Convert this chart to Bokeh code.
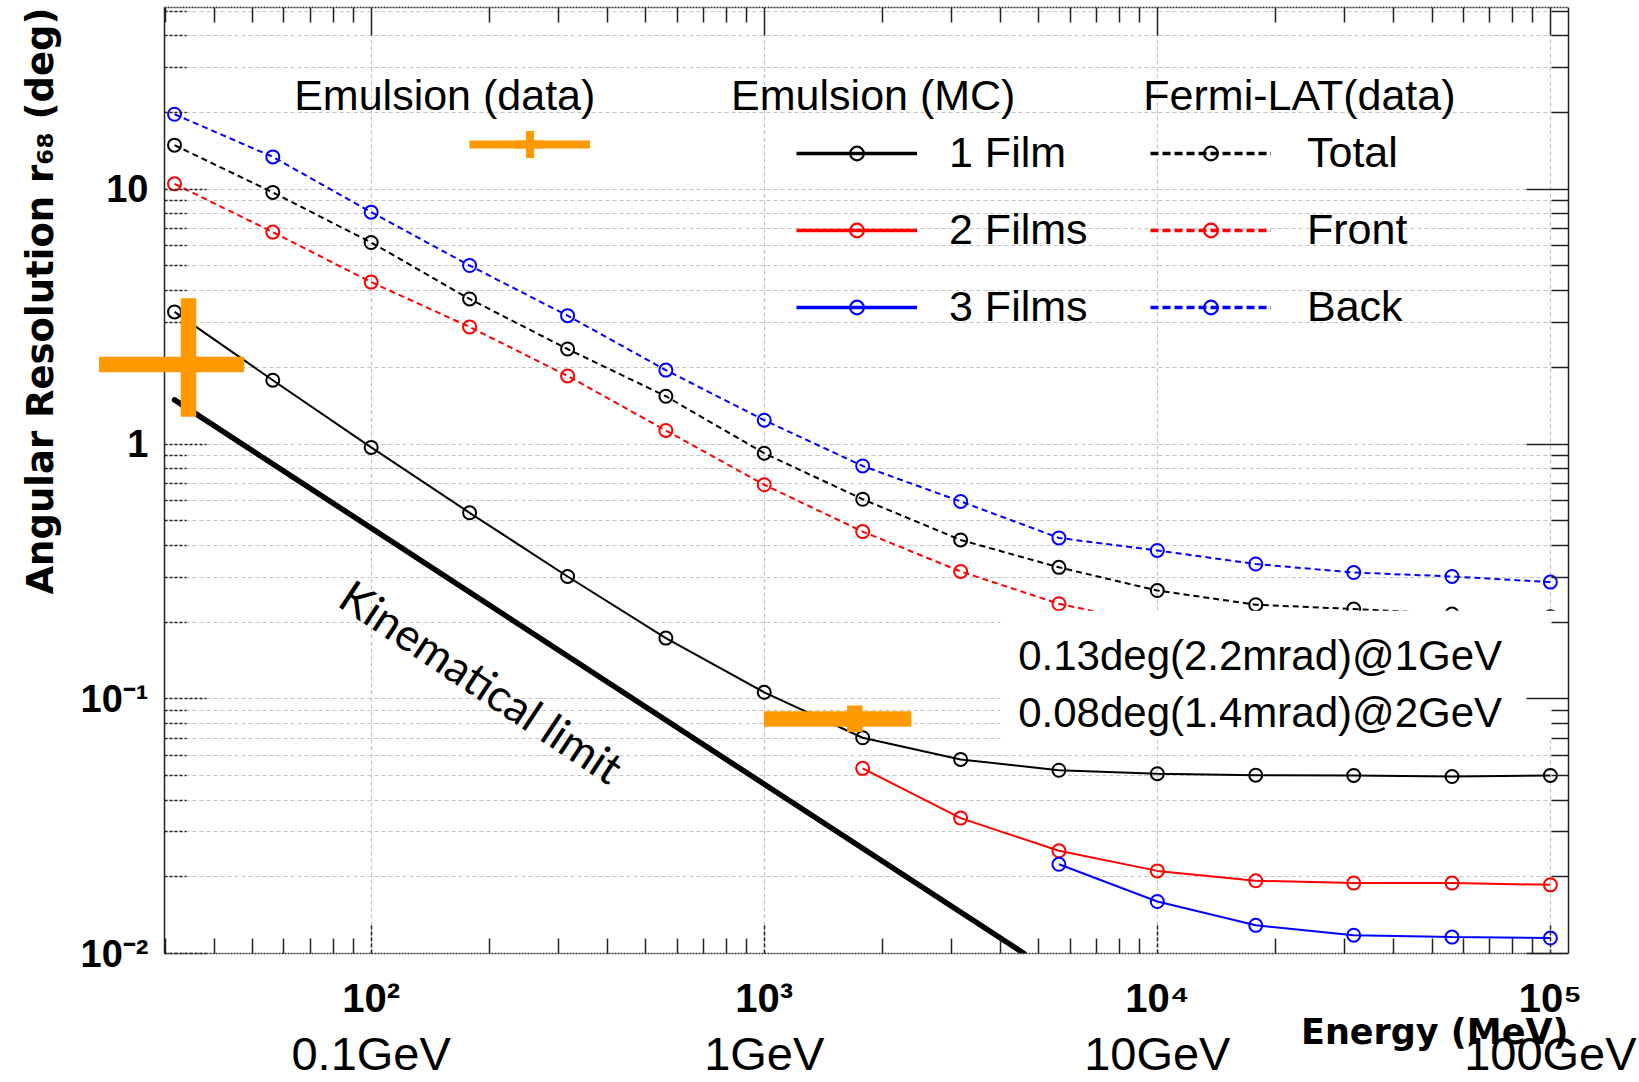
from bokeh.plotting import figure
from bokeh.models import (Range1d, FixedTicker, LogAxis, Legend, LegendItem,
                          Label, BoxAnnotation, Title)
from bokeh.embed import file_html
from bokeh.resources import INLINE

# ---------------- data ----------------
energy_mev = [31.6, 56.2, 100, 178, 316, 562, 1000, 1780, 3160, 5620,
              10000, 17800, 31600, 56200, 100000]

fermi_back = [19.7, 13.4, 8.13, 5.02, 3.19, 1.95, 1.24, 0.82, 0.595, 0.428,
              0.382, 0.338, 0.313, 0.302, 0.287]
fermi_total = [14.9, 9.72, 6.18, 3.71, 2.36, 1.54, 0.92, 0.607, 0.42, 0.328,
               0.266, 0.234, 0.225, 0.215, 0.21]
fermi_front = [10.5, 6.79, 4.32, 2.88, 1.85, 1.13, 0.692, 0.453, 0.316, 0.236,
               0.195, 0.17, 0.155, 0.145, 0.135]

film1_deg = [3.3, 1.78, 0.97, 0.537, 0.302, 0.173, 0.106, 0.0703, 0.0578,
             0.0524, 0.0508, 0.0501, 0.0500, 0.0495, 0.0500]
film2_energy = [1780, 3160, 5620, 10000, 17800, 31600, 56200, 100000]
film2_deg = [0.0533, 0.0340, 0.0253, 0.0211, 0.0193, 0.0189, 0.0189, 0.0186]
film3_energy = [5620, 10000, 17800, 31600, 56200, 100000]
film3_deg = [0.0224, 0.0160, 0.0129, 0.0118, 0.0116, 0.0115]

kin_energy = [31.6, 4580]
kin_deg = [1.49, 0.01]

# Emulsion (data): centre and error-bar extents
emu_energy = [34.3, 1700]
emu_energy_lo = [20.3, 998]
emu_energy_hi = [47.5, 2366]
emu_deg = [2.05, 0.0833]
emu_deg_lo = [1.28, 0.074]
emu_deg_hi = [3.73, 0.0941]

x_major = [100, 1000, 10000, 100000]
x_major_labels = ["10\u00b2", "10\u00b3", "10\u2074", "10\u2075"]
gev_labels = ["0.1GeV", "1GeV", "10GeV", "100GeV"]
y_major = [0.01, 0.1, 1, 10]
y_major_labels = ["10\u207b\u00b2", "10\u207b\u00b9", "1", "10"]

x_minor = [m * 10 ** k for k in range(1, 5) for m in range(2, 10)]
y_minor = [m * 10.0 ** k for k in range(-2, 2) for m in range(2, 10)]

ORANGE = "#FF9900"
LEG_FONT = "Liberation Sans"

# ---------------- figure ----------------
p = figure(width=1639, height=1082, x_axis_type="log", y_axis_type="log",
           x_range=Range1d(29.8, 111200), y_range=Range1d(0.01, 51.7),
           output_backend="svg", toolbar_location=None,
           min_border_left=163, min_border_right=71,
           min_border_top=7, min_border_bottom=129)
p.outline_line_color = None
p.background_fill_color = "white"
p.border_fill_color = "white"

# grids
p.xgrid.ticker = FixedTicker(ticks=x_major)
p.xgrid.grid_line_color = "#c4c4c4"
p.xgrid.grid_line_dash = "4 3"
p.xgrid.grid_line_width = 1.2
p.ygrid.ticker = FixedTicker(ticks=y_major, minor_ticks=y_minor)
p.ygrid.grid_line_color = "#c4c4c4"
p.ygrid.grid_line_dash = "4 3"
p.ygrid.grid_line_width = 1.2
p.ygrid.minor_grid_line_color = "#c4c4c4"
p.ygrid.minor_grid_line_dash = "4 3"
p.ygrid.minor_grid_line_width = 1.2

# bottom axis
xa = p.xaxis[0]
xa.ticker = FixedTicker(ticks=x_major, minor_ticks=x_minor)
xa.major_label_overrides = dict(zip(x_major, x_major_labels))
xa.major_label_text_font = "Liberation Sans"
xa.major_label_text_font_style = "bold"
xa.major_label_text_font_size = "40px"
xa.major_label_text_color = "black"
xa.major_label_standoff = 22
xa.major_tick_in = 29
xa.major_tick_out = 0
xa.minor_tick_in = 15
xa.minor_tick_out = 0
xa.major_tick_line_color = "#222222"
xa.major_tick_line_dash = "4 2"
xa.major_tick_line_width = 1.5
xa.minor_tick_line_color = "#222222"
xa.minor_tick_line_width = 1.5
xa.axis_line_color = "#333333"
xa.axis_line_dash = "2 1"
xa.axis_line_width = 1.5

# x-axis title, right-aligned at the axis end (between the two label rows)
p.add_layout(Title(text="Energy (MeV)", align="right", text_font="DejaVu Sans",
                   text_font_style="bold", text_font_size="35px",
                   text_color="black", standoff=-26), "below")

# GeV labels row
gev_axis = LogAxis(ticker=FixedTicker(ticks=x_major),
                   major_label_overrides=dict(zip(x_major, gev_labels)),
                   major_label_text_font="Liberation Sans",
                   major_label_text_font_size="47px",
                   major_label_text_color="black",
                   major_label_standoff=-12,
                   major_tick_in=0, major_tick_out=0,
                   major_tick_line_color=None, minor_tick_line_color=None,
                   axis_line_color=None)
p.add_layout(gev_axis, "below")

# left axis
ya = p.yaxis[0]
ya.ticker = FixedTicker(ticks=y_major, minor_ticks=y_minor)
ya.major_label_overrides = dict(zip(y_major, y_major_labels))
ya.major_label_text_font = "Liberation Sans"
ya.major_label_text_font_style = "bold"
ya.major_label_text_font_size = "38px"
ya.major_label_text_color = "black"
ya.major_label_standoff = 16
ya.major_tick_in = 42
ya.major_tick_out = 0
ya.minor_tick_in = 22
ya.minor_tick_out = 0
ya.major_tick_line_color = "#222222"
ya.major_tick_line_dash = "3 2"
ya.major_tick_line_width = 1.5
ya.minor_tick_line_color = "#222222"
ya.minor_tick_line_dash = "3 2"
ya.minor_tick_line_width = 1.5
ya.axis_line_color = "#222222"
ya.axis_line_width = 1.5

# y-axis title, aligned to the top end
p.add_layout(Title(text="Angular Resolution r\u2086\u2088 (deg)", align="right",
                   text_font="DejaVu Sans", text_font_style="bold",
                   text_font_size="37px", text_color="black", standoff=32), "left")

# mirrored top / right axes (labels blank)
blank_x = {v: "" for v in x_major}
blank_y = {v: "" for v in y_major}
top_axis = LogAxis(ticker=FixedTicker(ticks=x_major, minor_ticks=x_minor),
                   major_label_overrides=blank_x,
                   major_label_text_font_size="2px", major_label_standoff=0,
                   major_tick_in=28, major_tick_out=0,
                   minor_tick_in=15, minor_tick_out=0,
                   major_tick_line_color="#222222", minor_tick_line_color="#222222",
                   major_tick_line_width=1.5, minor_tick_line_width=1.5,
                   axis_line_color="#333333", axis_line_dash="2 1",
                   axis_line_width=1.5)
p.add_layout(top_axis, "above")
right_axis = LogAxis(ticker=FixedTicker(ticks=y_major, minor_ticks=y_minor),
                     major_label_overrides=blank_y,
                     major_label_text_font_size="2px", major_label_standoff=0,
                     major_tick_in=42, major_tick_out=0,
                     minor_tick_in=17, minor_tick_out=0,
                     major_tick_line_color="#222222", minor_tick_line_color="#222222",
                     major_tick_line_width=1.5, minor_tick_line_width=1.5,
                     axis_line_color="#222222", axis_line_width=1.5)
p.add_layout(right_axis, "right")

# ---------------- data glyphs ----------------
DASH = "6 4"
MS = 13

def series(xs, ys, color, dash):
    p.line(xs, ys, line_color=color, line_width=2, line_dash=dash)
    p.scatter(xs, ys, marker="circle", size=MS, line_color=color,
              line_width=2, fill_color=None)

series(energy_mev, fermi_back, "blue", DASH)
series(energy_mev, fermi_total, "black", DASH)
series(energy_mev, fermi_front, "red", DASH)
series(energy_mev, film1_deg, "black", "solid")
series(film2_energy, film2_deg, "red", "solid")
series(film3_energy, film3_deg, "blue", "solid")

p.line(kin_energy, kin_deg, line_color="black", line_width=5.5, line_cap="round")

# white box behind the resolution note (covers lines, stays under the axis ticks)
p.add_layout(BoxAnnotation(left=3985, right=106600, top=0.2214, bottom=0.0691,
                           fill_color="white", fill_alpha=1.0, line_color=None,
                           level="glyph"))

# Emulsion data crosses (drawn above the frame clip, like the original)
p.segment(x0=emu_energy_lo, y0=emu_deg, x1=emu_energy_hi, y1=emu_deg,
          line_color=ORANGE, line_width=15.5, level="annotation")
p.segment(x0=emu_energy, y0=emu_deg_lo, x1=emu_energy, y1=emu_deg_hi,
          line_color=ORANGE, line_width=15.5, level="annotation")

# ---------------- legends (legend-only renderers, not drawn) ----------------
def leg_pair(xs, ys, color, dash):
    ln = p.line(xs, ys, line_color=color, line_width=3.5, line_dash=dash, visible=False)
    mk = p.scatter(xs, ys, marker="circle", line_color=color, line_width=2.2,
                   fill_color=None, visible=False)
    return [ln, mk]

emu_leg = [p.line(emu_energy, emu_deg, line_color=ORANGE, line_width=8, visible=False),
           p.scatter(emu_energy, emu_deg, marker="cross", line_color=ORANGE,
                     line_width=8, visible=False)]

common = dict(orientation="vertical", glyph_width=121, padding=0, margin=0,
              border_line_color=None, background_fill_alpha=0,
              label_text_font=LEG_FONT, label_text_font_size="43px",
              label_text_color="black")

leg_emu = Legend(items=[LegendItem(label=" ", renderers=emu_leg)],
                 location=(305, 775), glyph_height=68, label_height=20,
                 label_standoff=0, spacing=0, **common)
leg_mc = Legend(items=[LegendItem(label="1 Film", renderers=leg_pair(energy_mev, film1_deg, "black", "solid")),
                       LegendItem(label="2 Films", renderers=leg_pair(film2_energy, film2_deg, "red", "solid")),
                       LegendItem(label="3 Films", renderers=leg_pair(film3_energy, film3_deg, "blue", "solid"))],
                location=(632, 622), glyph_height=34, label_height=34,
                label_standoff=32, spacing=28, **common)
leg_fermi = Legend(items=[LegendItem(label="Total", renderers=leg_pair(energy_mev, fermi_total, "black", "8 4")),
                          LegendItem(label="Front", renderers=leg_pair(energy_mev, fermi_front, "red", "8 4")),
                          LegendItem(label="Back", renderers=leg_pair(energy_mev, fermi_back, "blue", "8 4"))],
                   location=(986, 622), glyph_height=34, label_height=34,
                   label_standoff=36, spacing=28, **common)
for lg in (leg_emu, leg_mc, leg_fermi):
    p.add_layout(lg)

# legend headers
for xh, txt in [(63.7, "Emulsion (data)"), (823.6, "Emulsion (MC)"), (9213, "Fermi-LAT(data)")]:
    p.add_layout(Label(x=xh, y=23.4, text=txt, text_font=LEG_FONT,
                       text_font_size="43px", text_color="black",
                       text_align="left", text_baseline="middle"))

# resolution note
for yh, txt in [(0.1475, "0.13deg(2.2mrad)@1GeV"), (0.0881, "0.08deg(1.4mrad)@2GeV")]:
    p.add_layout(Label(x=4426, y=yh, text=txt, text_font=LEG_FONT,
                       text_font_size="42px", text_color="black",
                       text_align="left", text_baseline="middle"))

# kinematical limit label
p.add_layout(Label(x=85.9, y=0.265, text="Kinematical limit", text_font="Lato",
                   text_font_size="45px", text_color="black", angle=-0.585,
                   text_align="left", text_baseline="middle"))

open("out.html", "w").write(file_html(p, INLINE))
